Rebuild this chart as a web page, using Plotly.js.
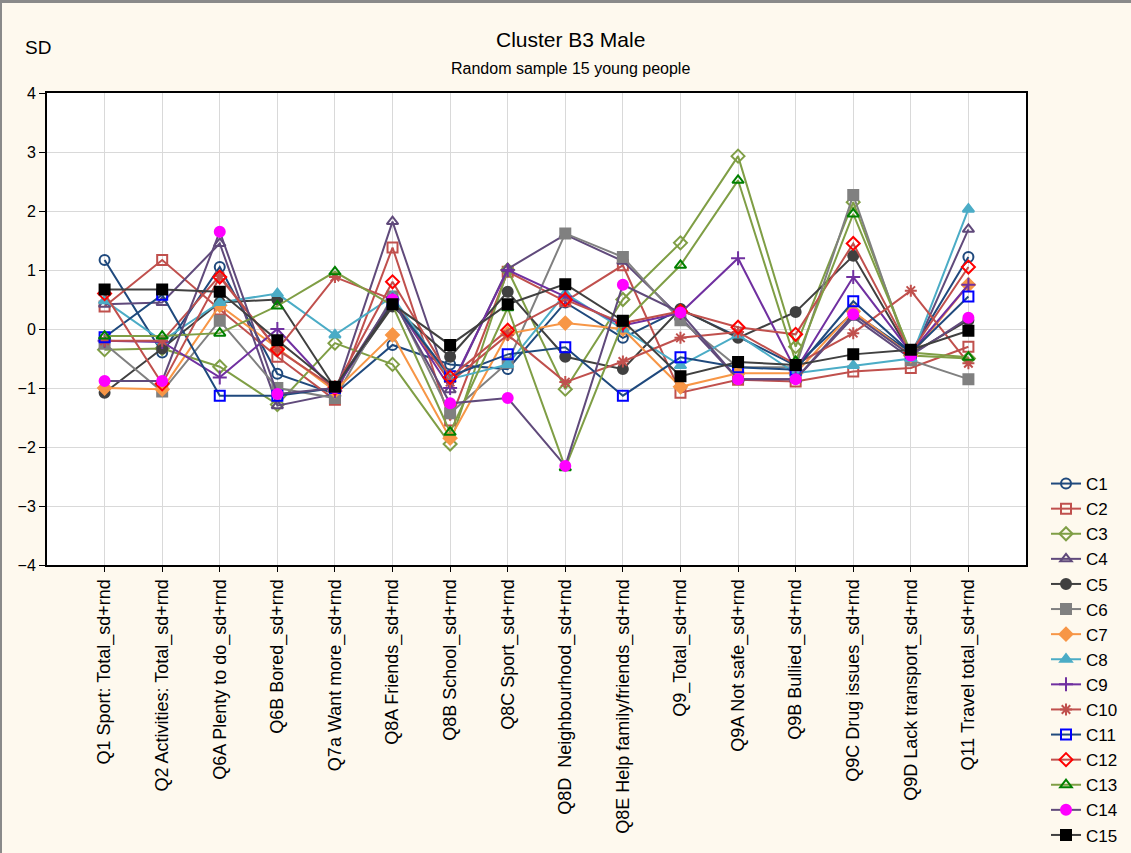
<!DOCTYPE html>
<html><head><meta charset="utf-8">
<script src="https://cdn.plot.ly/plotly-3.0.1.min.js"></script>
<style>
html,body{margin:0;padding:0;background:#FEF9EE;}
#wrap{position:relative;width:1131px;height:853px;}
#chart{width:1131px;height:853px;}
#frame{position:absolute;left:0;top:0;width:1131px;height:853px;box-sizing:border-box;border-left:2px solid #8a8a8a;border-top:3px solid #8a8a8a;pointer-events:none;}
</style></head>
<body><div id="wrap"><div id="chart"></div><div id="frame"></div></div>
<script>
const categories = ["Q1 Sport: Total_sd+rnd","Q2 Activities: Total_sd+rnd","Q6A Plenty to do_sd+rnd","Q6B Bored_sd+rnd","Q7a Want more_sd+rnd","Q8A Friends_sd+rnd","Q8B School_sd+rnd","Q8C Sport_sd+rnd","Q8D\u00A0\u00A0Neighbourhood_sd+rnd","Q8E Help family/friends_sd+rnd","Q9_Total_sd+rnd","Q9A Not safe_sd+rnd","Q9B Bullied_sd+rnd","Q9C Drug issues_sd+rnd","Q9D Lack transport_sd+rnd","Q11 Travel total_sd+rnd"];

const C1  = [1.17,-0.4,1.05,-0.76,-1.1,-0.27,-0.6,-0.68,0.45,-0.15,0.33,-0.13,-0.62,0.28,-0.4,1.22];
const C2  = [0.38,1.17,0.33,-0.47,-1.2,1.38,-1.55,0.97,0.47,1.08,-1.08,-0.86,-0.89,-0.72,-0.66,-0.3];
const C3  = [-0.35,-0.33,-0.64,-1.28,-0.24,-0.6,-1.95,1.0,-1.02,0.5,1.46,2.93,-0.3,2.15,-0.45,-0.5];
const C4  = [0.42,0.45,1.45,-1.3,-1.1,1.82,-1.03,1.02,1.6,1.15,0.2,-0.85,-0.85,0.2,-0.5,1.69];
const C5  = [-1.08,-0.33,0.45,0.5,-1.0,0.38,-0.47,0.63,-0.47,-0.68,0.34,-0.15,0.29,1.24,-0.42,0.15];
const C6  = [-0.25,-1.06,0.14,-1.0,-1.17,0.55,-1.43,-0.57,1.62,1.22,0.15,-0.65,-0.65,2.27,-0.53,-0.85];
const C7  = [-1.0,-1.02,0.4,-0.33,-1.05,-0.1,-1.85,-0.08,0.1,0.0,-0.98,-0.75,-0.75,0.3,-0.45,0.75];
const C8  = [0.48,-0.2,0.45,0.6,-0.1,0.55,-0.85,-0.6,0.6,0.0,-0.62,-0.1,-0.75,-0.62,-0.5,2.03];
const C9  = [-0.2,-0.22,-0.82,0.0,-1.05,0.5,-1.0,1.0,0.55,0.06,0.27,1.2,-0.7,0.88,-0.4,0.75];
const C10 = [-0.2,-0.2,0.9,-0.35,0.88,0.5,-0.9,-0.1,-0.9,-0.55,-0.15,-0.05,-0.6,-0.07,0.65,-0.58];
const C11 = [-0.14,0.58,-1.13,-1.13,-1.0,0.45,-0.8,-0.43,-0.31,-1.13,-0.48,-0.65,-0.69,0.47,-0.4,0.55];
const C12 = [0.6,-0.93,0.88,-0.35,-1.0,0.8,-0.82,-0.02,0.5,0.1,0.3,0.03,-0.09,1.45,-0.4,1.05];
const C13 = [-0.12,-0.12,-0.07,0.39,0.97,0.4,-1.75,0.36,-2.35,0.1,1.08,2.52,-0.55,1.95,-0.4,-0.48];
const C14 = [-0.88,-0.88,1.65,-1.1,-1.0,0.5,-1.26,-1.17,-2.32,0.75,0.28,-0.85,-0.85,0.25,-0.45,0.19];
const C15 = [0.67,0.67,0.63,-0.19,-0.98,0.42,-0.27,0.42,0.76,0.14,-0.8,-0.56,-0.61,-0.43,-0.35,-0.03];

const seriesNames = ["C1","C2","C3","C4","C5","C6","C7","C8","C9","C10","C11","C12","C13","C14","C15"];
const seriesValues = [C1,C2,C3,C4,C5,C6,C7,C8,C9,C10,C11,C12,C13,C14,C15];

const olive = "#7F9E45";
const styles = [
  {line:"#1F497D", mc:"#1F497D", sym:"circle-open"},
  {line:"#C0504D", mc:"#C0504D", sym:"square-open"},
  {line:olive, mc:olive, sym:"diamond-open"},
  {line:"#604A7B", mc:"#604A7B", sym:"triangle-up-open"},
  {line:"#404040", mc:"#404040", sym:"circle"},
  {line:"#808080", mc:"#808080", sym:"square"},
  {line:"#F79646", mc:"#F79646", sym:"diamond"},
  {line:"#4BACC6", mc:"#4BACC6", sym:"triangle-up"},
  {line:"#7030A0", mc:"#7030A0", sym:"cross-thin-open"},
  {line:"#C0504D", mc:"#C0504D", sym:"asterisk-open"},
  {line:"#1F497D", mc:"#0000FF", sym:"square-open"},
  {line:"#C0504D", mc:"#FF0000", sym:"diamond-open"},
  {line:olive, mc:"#008000", sym:"triangle-up-open"},
  {line:"#604A7B", mc:"#FF00FF", sym:"circle"},
  {line:"#404040", mc:"#000000", sym:"square"}
];

const traces = seriesNames.map((n,i)=>({
  type:"scatter", mode:"lines+markers", name:n,
  x:categories, y:seriesValues[i],
  line:{color:styles[i].line, width:2},
  marker:{symbol:styles[i].sym, size:10, color:styles[i].mc, line:{color:styles[i].mc, width:2}}
}));

const F = "Arial, 'Liberation Sans', sans-serif";
const layout = {
  width:1131, height:853,
  paper_bgcolor:"#FEF9EE", plot_bgcolor:"#FFFFFF",
  margin:{l:47, r:105, t:93, b:288, pad:0, autoexpand:false},
  font:{family:F, color:"#000"},
  showlegend:true,
  legend:{xref:"container", yref:"container", x:1046/1131, xanchor:"left", y:1-466/853, yanchor:"top", bgcolor:"rgba(0,0,0,0)", font:{family:F, size:17, color:"#000"}},
  xaxis:{type:"category", range:[-1,16], showgrid:true, gridcolor:"#D9D9D9", gridwidth:1, automargin:false,
    showline:true, linecolor:"#000", linewidth:2, mirror:true, ticks:"outside", ticklen:5, tickcolor:"#000",
    tickangle:-90, tickfont:{family:F, size:18, color:"#000"}, zeroline:false, fixedrange:true},
  yaxis:{range:[-4,4], dtick:1, tick0:0, showgrid:true, gridcolor:"#D9D9D9", gridwidth:1, automargin:false,
    showline:true, linecolor:"#000", linewidth:2, mirror:true, ticks:"outside", ticklen:6, tickcolor:"#000",
    tickfont:{family:F, size:16, color:"#000"}, zeroline:false, fixedrange:true},
  annotations:[
    {text:"Cluster B3 Male", xref:"paper", yref:"paper", x:0.535, y:(565-39)/472, xanchor:"center", yanchor:"middle", showarrow:false, font:{family:F, size:21, color:"#000"}},
    {text:"Random sample 15 young people", xref:"paper", yref:"paper", x:0.535, y:(565-68)/472, xanchor:"center", yanchor:"middle", showarrow:false, font:{family:F, size:16, color:"#000"}},
    {text:"SD", xref:"paper", yref:"paper", x:(38-47)/979, y:(565-47)/472, xanchor:"center", yanchor:"middle", showarrow:false, font:{family:F, size:19, color:"#000"}}
  ]
};

Plotly.newPlot("chart", traces, layout, {displayModeBar:false, staticPlot:true});
</script></body></html>
